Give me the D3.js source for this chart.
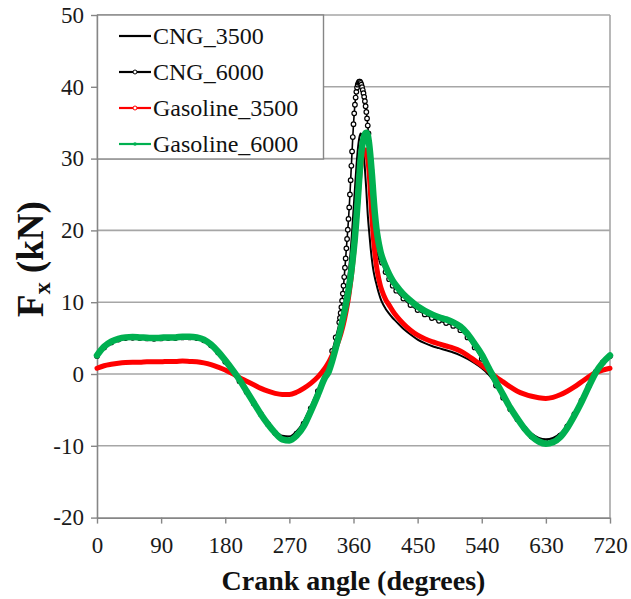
<!DOCTYPE html>
<html><head><meta charset="utf-8">
<script src="https://cdn.jsdelivr.net/npm/d3@7"></script>
<style>html,body{margin:0;padding:0;background:#fff;} svg{display:block;}</style>
</head><body>
<svg id="chart" width="631" height="599"></svg>
<script>
// ---------------- DATA ----------------
const xTicks = [0, 90, 180, 270, 360, 450, 540, 630, 720];
const yTicks = [-20, -10, 0, 10, 20, 30, 40, 50];
const seriesNames = ["CNG_3500", "CNG_6000", "Gasoline_3500", "Gasoline_6000"];

// shared crank-angle grid for CNG_3500, Gasoline_3500, Gasoline_6000
const angles = [0,10,20,30,40,50,60,70,80,90,100,110,120,130,140,150,160,170,180,190,200,210,220,230,240,250,260,270,280,290,300,310,320,
  325,330,335,340,
  342,344,346,348,350,352,354,356,358,360,362,364,366,368,370,372,374,376,378,380,382,384,386,388,390,392,394,396,398,
  400,405,410,415,420,
  430,440,450,460,470,480,490,500,510,520,530,540,550,560,570,580,590,600,610,620,630,640,650,660,670,680,690,700,710,720];

const cng3500 = [2.4,3.6,4.4,4.8,5.0,5.05,5.0,4.95,4.95,5.0,5.05,5.05,5.1,5.1,5.0,4.7,4.0,3.0,1.7,0.4,-1.0,-2.5,-4.0,-5.5,-6.8,-7.9,-8.6,-8.7,-8.0,-6.6,-4.5,-2.2,0.1,
  1.2,2.4,3.8,5.4,
  6.3,7.3,8.4,9.7,11.1,12.8,14.8,17.1,19.8,22.8,25.8,28.8,31.2,32.8,33.5,33.0,31.2,28.6,25.6,22.2,19.8,17.6,15.8,14.4,13.4,12.6,11.8,11.1,10.5,
  10.0,9.1,8.4,7.8,7.3,
  6.3,5.5,4.8,4.3,3.9,3.6,3.3,3.0,2.6,2.1,1.5,0.8,-0.1,-1.4,-3.0,-4.6,-6.0,-7.3,-8.3,-8.9,-9.1,-8.9,-8.3,-7.1,-5.5,-3.7,-1.7,0.2,1.5,2.4];

const gasoline3500 = [0.8,1.15,1.35,1.5,1.6,1.65,1.65,1.7,1.7,1.7,1.75,1.75,1.8,1.75,1.7,1.55,1.3,0.95,0.55,0.05,-0.5,-1.0,-1.5,-2.0,-2.4,-2.7,-2.85,-2.85,-2.55,-2.0,-1.3,-0.4,0.8,
  1.6,2.6,3.6,4.9,
  5.5,6.2,7.0,7.9,8.9,10.0,11.3,12.8,14.5,16.5,18.8,21.3,24.0,26.6,28.7,30.2,30.8,31.2,31.2,30.0,28.0,24.8,21.6,18.9,16.8,15.2,14.0,13.0,12.2,
  11.6,10.4,9.6,8.8,8.1,
  7.0,6.1,5.4,4.9,4.5,4.2,3.9,3.6,3.2,2.6,1.9,1.2,0.4,-0.4,-1.1,-1.8,-2.4,-2.8,-3.1,-3.3,-3.4,-3.25,-2.9,-2.4,-1.8,-1.1,-0.4,0.2,0.55,0.8];

const gasoline6000 = [2.6,3.8,4.5,4.9,5.1,5.15,5.1,5.05,5.0,5.05,5.1,5.1,5.2,5.2,5.1,4.8,4.1,3.1,1.9,0.6,-0.8,-2.4,-4.0,-5.6,-7.0,-8.2,-9.1,-9.25,-8.6,-7.3,-5.2,-2.9,-0.5,
  0.3,1.8,3.6,5.5,
  6.3,7.2,8.1,9.0,10.0,11.1,12.3,13.6,15.2,17.0,19.0,21.5,24.2,27.2,29.8,31.6,32.8,33.4,33.6,33.3,32.0,30.0,27.6,24.8,22.3,20.4,19.0,17.9,17.0,
  16.3,15.0,13.9,13.0,12.3,
  11.1,10.2,9.4,8.8,8.3,7.9,7.6,7.2,6.6,5.6,4.2,2.7,0.8,-1.1,-2.9,-4.7,-6.2,-7.6,-8.7,-9.4,-9.7,-9.5,-8.8,-7.5,-5.8,-3.9,-1.8,0.2,1.6,2.6];

// CNG_6000 has a finer grid around the peak (its markers are visible there)
const cng6000Angles = [0,10,20,30,40,50,60,70,80,90,100,110,120,130,140,150,160,170,180,190,200,210,220,230,240,250,260,270,280,290,300,310,320,330,
  335,
  340,341,342,343,344,345,346,347,348,349,350,351,352,353,354,355,356,357,358,359,
  360,361,362,363,364,365,366,367,368,369,370,371,372,373,374,375,376,377,378,379,
  380,381,382,383,384,385,386,387,388,389,390,391,392,393,394,395,396,397,398,399,400,
  405,410,415,420,
  430,440,450,460,470,480,490,500,510,520,530,540,550,560,570,580,590,600,610,620,630,640,650,660,670,680,690,700,710,720];

const cng6000 = [2.5,3.7,4.4,4.8,5.0,5.05,5.0,4.95,4.9,4.95,5.0,5.0,5.1,5.1,5.0,4.7,4.0,3.0,1.7,0.4,-1.0,-2.5,-4.1,-5.6,-7.0,-8.2,-9.0,-9.0,-8.3,-6.9,-4.8,-2.4,0.1,3.2,
  5.1,
  7.2,7.8,8.5,9.3,10.2,11.2,12.3,13.5,14.8,16.1,17.5,18.8,20.1,21.6,23.2,25.0,27.0,29.0,31.0,33.0,
  34.8,36.3,37.5,38.5,39.3,39.9,40.3,40.55,40.7,40.7,40.55,40.3,39.95,39.55,39.1,38.6,38.0,37.3,36.5,35.6,
  34.6,33.5,32.3,31.0,29.7,28.4,27.0,25.5,24.0,22.6,21.4,20.4,19.5,18.8,18.2,17.6,17.1,16.6,16.2,15.8,15.5,
  14.2,13.2,12.3,11.6,
  10.5,9.6,8.9,8.3,7.8,7.4,7.1,6.7,6.1,5.1,3.7,2.1,0.3,-1.6,-3.3,-4.9,-6.3,-7.6,-8.7,-9.3,-9.5,-9.3,-8.6,-7.3,-5.6,-3.7,-1.7,0.3,1.6,2.5];

// ---------------- CHART ----------------
const FONT = '"Liberation Serif","Times New Roman",serif';
const svg = d3.select("#chart");
const x = d3.scaleLinear().domain([0, 720]).range([97, 610]);
const y = d3.scaleLinear().domain([-20, 50]).range([517.6, 15]);
const GRID = "#a6a6a6", AXIS = "#868686";
const colors = {CNG_3500: "#000000", CNG_6000: "#000000", Gasoline_3500: "#ff0000", Gasoline_6000: "#00b050"};

// gridlines
svg.append("g").selectAll("line").data(yTicks.filter(d => d > -20)).join("line")
  .attr("x1", x(0)).attr("x2", x(720)).attr("y1", d => y(d)).attr("y2", d => y(d))
  .attr("stroke", GRID).attr("stroke-width", 1.6);
// right border
svg.append("line").attr("x1", x(720)).attr("x2", x(720)).attr("y1", y(50)).attr("y2", y(-20))
  .attr("stroke", GRID).attr("stroke-width", 1.6);

// axes
const fmt = d => String(d);
const yAxis = svg.append("g").attr("transform", `translate(${x(0)},0)`)
  .call(d3.axisLeft(y).tickValues(yTicks).tickSize(6).tickSizeOuter(0).tickPadding(7).tickFormat(fmt));
const xAxis = svg.append("g").attr("transform", `translate(0,${y(-20)})`)
  .call(d3.axisBottom(x).tickValues(xTicks).tickSize(6).tickSizeOuter(0).tickPadding(13).tickFormat(fmt));
[yAxis, xAxis].forEach(g => {
  g.select(".domain").attr("stroke", AXIS).attr("stroke-width", 1.6);
  g.selectAll(".tick line").attr("stroke", AXIS).attr("stroke-width", 1.4);
  g.selectAll(".tick text").attr("font-family", FONT).attr("font-size", 23).attr("fill", "#1a1a1a");
});

// series
const line = d3.line().x(d => x(d[0])).y(d => y(d[1])).curve(d3.curveMonotoneX);
const zip = (a, v) => a.map((d, i) => [d, v[i]]);
const plot = svg.append("g");

plot.append("path").datum(zip(angles, cng3500)).attr("d", line)
  .attr("fill", "none").attr("stroke", colors.CNG_3500).attr("stroke-width", 2);

const c6 = zip(cng6000Angles, cng6000);
plot.append("path").datum(c6).attr("d", line)
  .attr("fill", "none").attr("stroke", colors.CNG_6000).attr("stroke-width", 1.6);
plot.append("g").selectAll("circle").data(c6).join("circle")
  .attr("cx", d => x(d[0])).attr("cy", d => y(d[1])).attr("r", 2.3)
  .attr("fill", "#fff").attr("stroke", "#000").attr("stroke-width", 1.2);

plot.append("path").datum(zip(angles, gasoline3500)).attr("d", line)
  .attr("fill", "none").attr("stroke", colors.Gasoline_3500).attr("stroke-width", 5)
  .attr("stroke-linejoin", "round").attr("stroke-linecap", "round");

plot.append("path").datum(zip(angles, gasoline6000)).attr("d", line)
  .attr("fill", "none").attr("stroke", colors.Gasoline_6000).attr("stroke-width", 6.5)
  .attr("stroke-linejoin", "round").attr("stroke-linecap", "round");

// legend
const lg = svg.append("g");
lg.append("rect").attr("x", 97.5).attr("y", 15).attr("width", 226).attr("height", 144)
  .attr("fill", "#fff").attr("stroke", AXIS).attr("stroke-width", 1.4);
const legY = [36, 72, 108, 144];
seriesNames.forEach((name, i) => {
  const yy = legY[i];
  lg.append("line").attr("x1", 119).attr("x2", 151).attr("y1", yy).attr("y2", yy)
    .attr("stroke", colors[name]).attr("stroke-width", 2.2);
  if (name === "CNG_6000" || name === "Gasoline_3500") {
    lg.append("circle").attr("cx", 135).attr("cy", yy).attr("r", 2)
      .attr("fill", "#fff").attr("stroke", colors[name]).attr("stroke-width", 1);
  }
  if (name === "Gasoline_6000") {
    lg.append("circle").attr("cx", 135).attr("cy", yy).attr("r", 1.8).attr("fill", colors[name]);
  }
  lg.append("text").attr("x", 153).attr("y", yy).attr("dy", "0.35em")
    .attr("font-family", FONT).attr("font-size", 24).attr("fill", "#111").text(name);
});

// axis titles
svg.append("text").attr("x", (x(0) + x(720)) / 2).attr("y", 590).attr("text-anchor", "middle")
  .attr("font-family", FONT).attr("font-size", 28).attr("font-weight", "bold").attr("fill", "#111")
  .text("Crank angle (degrees)");
const yt = svg.append("text").attr("transform", "translate(43,259) rotate(-90)").attr("text-anchor", "middle")
  .attr("font-family", FONT).attr("font-size", 37).attr("font-weight", "bold").attr("fill", "#111");
yt.append("tspan").text("F");
yt.append("tspan").attr("font-size", 24).attr("dy", 7).text("x");
yt.append("tspan").attr("dy", -7).text(" (kN)");
</script>
</body></html>
